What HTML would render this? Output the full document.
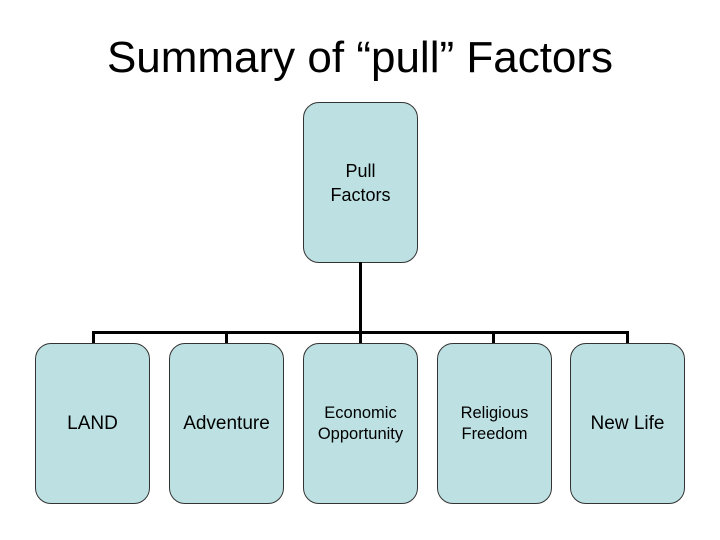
<!DOCTYPE html>
<html><head><style>
body{margin:0;width:720px;height:540px;background:#fff;position:relative;font-family:"Liberation Sans",sans-serif;overflow:hidden}
.t{position:absolute;top:33px;left:0;width:720px;text-align:center;font-size:44px;color:#000}
.b{position:absolute;box-sizing:border-box;width:115px;height:161px;background:#bde0e3;border:1px solid #333;border-radius:16px;display:flex;align-items:center;justify-content:center;text-align:center;color:#000}
.l{position:absolute;background:#000}
</style></head><body>
<div class="t">Summary of “pull” Factors</div>
<div class="b" style="left:303px;top:102px;font-size:18px;line-height:24px">Pull<br>Factors</div>
<div class="l" style="left:359px;top:262px;width:3px;height:81px"></div>
<div class="l" style="left:92px;top:331px;width:537px;height:3px"></div>
<div class="l" style="left:92px;top:331px;width:3px;height:12px"></div>
<div class="l" style="left:225px;top:331px;width:3px;height:12px"></div>
<div class="l" style="left:492px;top:331px;width:3px;height:12px"></div>
<div class="l" style="left:626px;top:331px;width:3px;height:12px"></div>
<div class="b" style="left:35px;top:343px;font-size:19px">LAND</div>
<div class="b" style="left:169px;top:343px;font-size:19px">Adventure</div>
<div class="b" style="left:303px;top:343px;font-size:16.5px;line-height:21px">Economic<br>Opportunity</div>
<div class="b" style="left:437px;top:343px;font-size:16.5px;line-height:21px">Religious<br>Freedom</div>
<div class="b" style="left:570px;top:343px;font-size:19px">New Life</div>
</body></html>
